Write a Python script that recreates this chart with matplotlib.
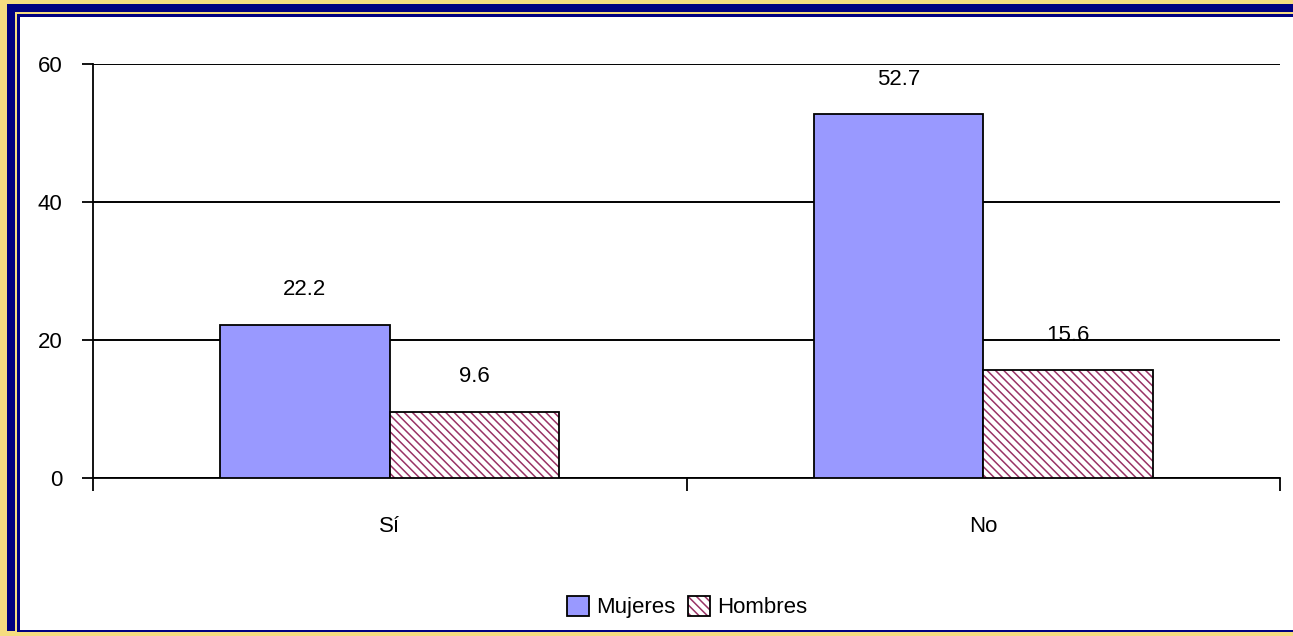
import matplotlib.pyplot as plt
from matplotlib.patches import Rectangle
import numpy as np

plt.rcParams['font.family'] = ['Liberation Sans', 'DejaVu Sans']
plt.rcParams['hatch.linewidth'] = 1.1

categorias = ['Sí', 'No']
mujeres = [22.2, 52.7]
hombres = [9.6, 15.6]
yticks = [0, 20, 40, 60]

W, H = 1293, 636
fig = plt.figure(figsize=(W / 100, H / 100), dpi=100)
fig.patch.set_facecolor('white')

# marco: amarillo, azul grueso, amarillo fino, azul fino
def banda(x0, y0, x1, y1, color):
    fig.patches.append(Rectangle((x0 / W, 1 - y1 / H), (x1 - x0) / W, (y1 - y0) / H,
                                 transform=fig.transFigure, facecolor=color,
                                 edgecolor='none', zorder=-5))

amarillo = '#F5DC80'
azul = '#000080'
banda(0, 0, W, H, amarillo)
banda(7, 4, W + 10, 631, azul)
banda(15, 12, W + 10, 633, amarillo)
banda(17, 14, W + 10, 632, azul)
banda(20, 17, W + 10, 630, 'white')

ax = fig.add_axes([93 / W, 1 - 478 / H, (1280 - 93) / W, (478 - 64) / H])
ax.set_facecolor('none')
ax.set_zorder(2)

x = np.arange(len(categorias))
w = 1 / 3.5
ax.bar(x - w / 2, mujeres, w, color='#9999FF', edgecolor='black', linewidth=1.3, zorder=3)
ax.bar(x + w / 2, hombres, w, color='white', edgecolor='#993366', hatch='\\\\\\\\',
       linewidth=0, zorder=3)
ax.bar(x + w / 2, hombres, w, color='none', edgecolor='black', linewidth=1.3, zorder=4)

for xi, v in zip(x - w / 2, mujeres):
    ax.text(xi, v + 3.6, f'{v}', ha='center', va='bottom', fontsize=16)
for xi, v in zip(x + w / 2, hombres):
    ax.text(xi, v + 3.6, f'{v}', ha='center', va='bottom', fontsize=16)

ax.set_xlim(-0.5, 1.5)
ax.set_ylim(0, 60)
ax.set_yticks(yticks)
ax.set_yticklabels([str(t) for t in yticks], fontsize=16)
ax.yaxis.grid(True, color='black', linewidth=1.4, zorder=0)
ax.set_axisbelow(True)

ax.set_xticks([-0.5, 0.5, 1.5])
ax.set_xticklabels([])
ax.set_xticks(x, minor=True)
ax.set_xticklabels(categorias, minor=True, fontsize=16)
ax.tick_params(axis='x', which='minor', length=0, pad=27)
ax.tick_params(axis='x', which='major', length=9, width=1.3, direction='out')
ax.tick_params(axis='y', length=8, width=1.3, pad=14)

for s in ['top', 'right']:
    ax.spines[s].set_visible(False)
ax.spines['left'].set_linewidth(1.3)
ax.spines['bottom'].set_linewidth(1.3)

h1 = Rectangle((0, 0), 1, 1, facecolor='#9999FF', edgecolor='black', linewidth=1.3)
h2a = Rectangle((0, 0), 1, 1, facecolor='white', edgecolor='#993366', hatch='\\\\\\\\',
                linewidth=0)
h2b = Rectangle((0, 0), 1, 1, facecolor='none', edgecolor='black', linewidth=1.3)
leg = fig.legend([h1, (h2a, h2b)], ['Mujeres', 'Hombres'], loc='center',
                 bbox_to_anchor=(687 / W, 1 - 607 / H), ncol=2, frameon=False,
                 fontsize=16, handlelength=1.0, handleheight=1.0, handletextpad=0.3,
                 columnspacing=0.6)
leg.set_zorder(3)

fig.savefig('out.png', dpi=100)
